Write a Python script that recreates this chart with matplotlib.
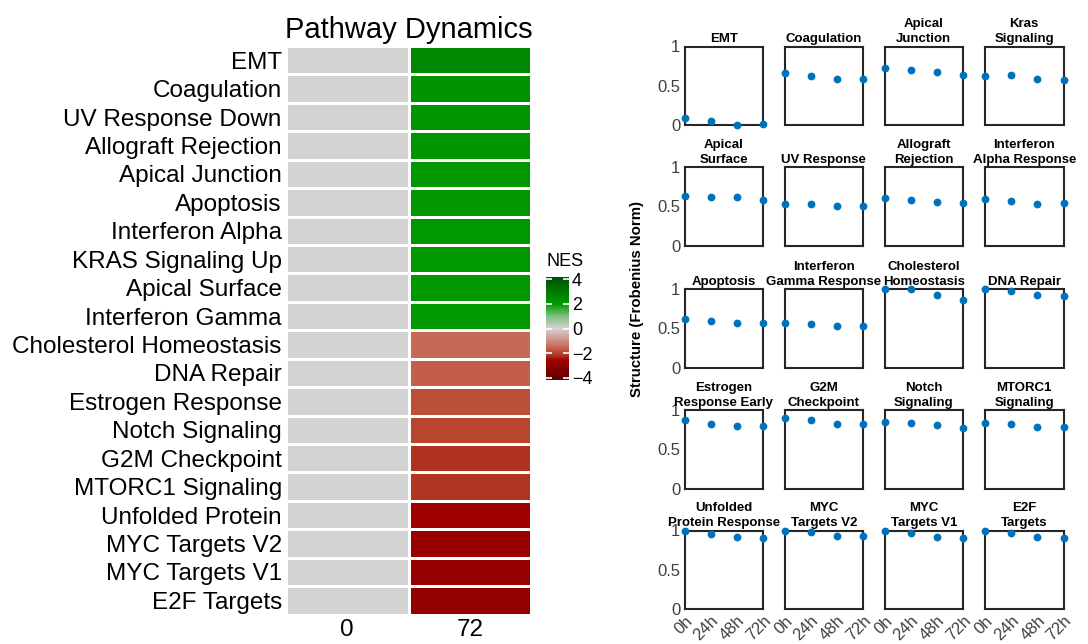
import matplotlib
matplotlib.use("Agg")
import matplotlib.pyplot as plt
import numpy as np
from matplotlib.colors import LinearSegmentedColormap

plt.rcParams['font.family'] = ['Liberation Sans', 'DejaVu Sans']

# --- dati heatmap (NES) ---
pathways = ["EMT", "Coagulation", "UV Response Down", "Allograft Rejection",
            "Apical Junction", "Apoptosis", "Interferon Alpha", "KRAS Signaling Up",
            "Apical Surface", "Interferon Gamma", "Cholesterol Homeostasis",
            "DNA Repair", "Estrogen Response", "Notch Signaling", "G2M Checkpoint",
            "MTORC1 Signaling", "Unfolded Protein", "MYC Targets V2",
            "MYC Targets V1", "E2F Targets"]
timepoints = ["0", "72"]
nes_0 = [0.0] * 20
nes_72 = [2.55, 2.25, 2.2, 2.2, 2.15, 2.15, 2.1, 2.1, 2.05, 2.05,
          -1.5, -1.65, -1.85, -2.0, -2.2, -2.18, -2.6, -2.78, -2.85, -2.95]

# --- dati small multiples (Frobenius norm) ---
panel_titles = ["EMT", "Coagulation", "Apical\nJunction", "Kras\nSignaling",
                "Apical\nSurface", "UV Response", "Allograft\nRejection", "Interferon\nAlpha Response",
                "Apoptosis", "Interferon\nGamma Response", "Cholesterol\nHomeostasis", "DNA Repair",
                "Estrogen\nResponse Early", "G2M\nCheckpoint", "Notch\nSignaling", "MTORC1\nSignaling",
                "Unfolded\nProtein Response", "MYC\nTargets V2", "MYC\nTargets V1", "E2F\nTargets"]
hours = ["0h", "24h", "48h", "72h"]
structure = [
    [0.09, 0.05, 0.0, 0.01],
    [0.66, 0.62, 0.59, 0.59],
    [0.73, 0.70, 0.67, 0.64],
    [0.63, 0.64, 0.59, 0.57],
    [0.63, 0.62, 0.62, 0.58],
    [0.53, 0.53, 0.50, 0.50],
    [0.61, 0.58, 0.56, 0.55],
    [0.59, 0.57, 0.53, 0.54],
    [0.62, 0.60, 0.57, 0.565],
    [0.57, 0.56, 0.53, 0.53],
    [1.0, 1.0, 0.92, 0.86],
    [1.0, 0.98, 0.93, 0.91],
    [0.87, 0.83, 0.805, 0.80],
    [0.90, 0.87, 0.83, 0.82],
    [0.855, 0.84, 0.815, 0.775],
    [0.84, 0.82, 0.79, 0.78],
    [1.0, 0.96, 0.92, 0.905],
    [1.0, 0.975, 0.925, 0.925],
    [1.0, 0.965, 0.92, 0.91],
    [1.0, 0.965, 0.92, 0.91],
]

W, H = 1088, 644
fig = plt.figure(figsize=(W / 100, H / 100), dpi=100)

# colormap rosso -> grigio -> verde
vmin, vmax = -4.2, 4.2
nodes = [(-4.2, '#600000'), (-2.6, '#a00000'), (-2.2, '#b03520'), (-1.5, '#c76a55'),
         (-0.8, '#cf9a90'), (0.0, '#d3d3d3'), (1.0, '#7fbf7f'), (2.0, '#009c00'),
         (4.2, '#005000')]
cmap = LinearSegmentedColormap.from_list(
    'nes', [((v - vmin) / (vmax - vmin), c) for v, c in nodes])

# --- heatmap ---
ax = fig.add_axes([286 / W, 1 - 614.5 / H, 245 / W, 568.5 / H])
vals = np.column_stack([nes_0, nes_72])
mesh = ax.pcolormesh(np.arange(3), np.arange(21), vals, cmap=cmap, vmin=vmin, vmax=vmax,
                     edgecolors='white', linewidth=1.8)
ax.set_ylim(20, 0)
ax.set_xlim(0, 2)
ax.set_xticks([0.5, 1.5])
ax.set_xticklabels(timepoints, fontsize=17.5)
ax.set_yticks(np.arange(20) + 0.5)
ax.set_yticklabels(pathways, fontsize=17.5)
ax.tick_params(length=0, pad=3)
for s in ax.spines.values():
    s.set_visible(False)
ax.set_title('Pathway Dynamics', fontsize=21, pad=6)

# colorbar
cax = fig.add_axes([546 / W, 1 - 380 / H, 23 / W, 103 / H])
cb = fig.colorbar(mesh, cax=cax, ticks=[-4, -2, 0, 2, 4])
cb.outline.set_visible(False)
cb.ax.set_yticklabels(['\u22124', '\u22122', '0', '2', '4'], fontsize=13)
cax.tick_params(direction='in', color='white', length=4, width=1.2, left=True, right=True,
                labelleft=False, labelright=True, pad=2)
cax.set_title('NES', fontsize=13, loc='left', pad=8)

# --- small multiples ---
col_left = [684.5, 784.5, 884.5, 985.0]
row_bottom = [125.0, 245.7, 367.7, 488.7, 609.0]
box = 78.5
x = np.arange(4)
for i, (tit, y) in enumerate(zip(panel_titles, structure)):
    r, c = divmod(i, 4)
    a = fig.add_axes([col_left[c] / W, 1 - row_bottom[r] / H, box / W, box / H])
    a.plot(x, y, 'o', color='#0072BD', ms=4.6, clip_on=False, zorder=3)
    a.set_xlim(0, 3)
    a.set_ylim(0, 1)
    a.set_xticks(x)
    a.set_yticks([0, 0.5, 1])
    a.set_yticklabels(['0', '0.5', '1'])
    a.tick_params(length=0, labelsize=12, labelcolor='#404040', pad=3)
    if c != 0:
        a.tick_params(labelleft=False)
    if r == 4:
        a.set_xticklabels(hours, rotation=45, ha='right', rotation_mode='anchor')
    else:
        a.tick_params(labelbottom=False)
    for s in a.spines.values():
        s.set_linewidth(1.5)
        s.set_color('#262626')
    a.set_title(tit, fontsize=9.5, fontweight='bold', pad=3, linespacing=1.35)

fig.text(637 / W, 1 - 299 / H, 'Structure (Frobenius Norm)', rotation=90,
         ha='center', va='center', fontsize=10.8, fontweight='bold')

fig.savefig('out.png', dpi=100)
